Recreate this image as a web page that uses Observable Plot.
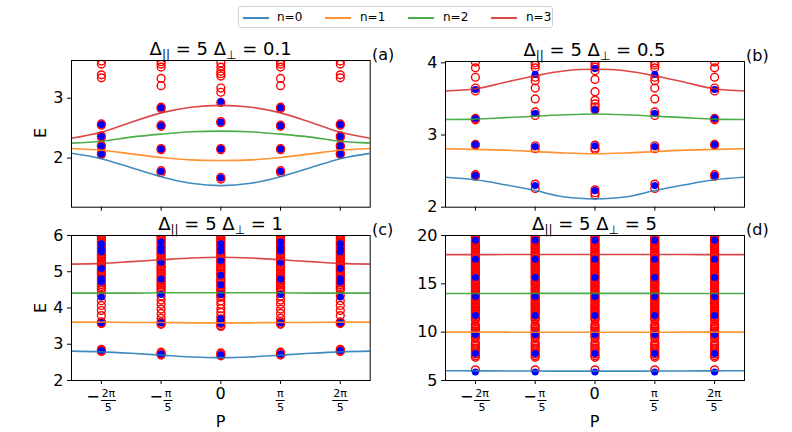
<!DOCTYPE html>
<html><head><meta charset="utf-8">
<script src="https://cdn.jsdelivr.net/npm/d3@7"></script>
<script src="https://cdn.jsdelivr.net/npm/@observablehq/plot@0.6"></script>
<style>
body{margin:0;background:#fff;font-family:"DejaVu Sans",sans-serif;color:#000;}
#fig{position:relative;width:792px;height:432px;overflow:hidden;background:#fff;}
.abs{position:absolute;white-space:nowrap;}
.title{font-size:18px;line-height:18px;transform:translateX(-50%);}
.title sub{font-size:12px;vertical-align:-4px;line-height:0;}
.tag{font-size:16px;line-height:16px;}
.axlab{font-size:16px;line-height:16px;}
.xlab{font-size:16px;line-height:12px;}
.xt{transform:translateX(-50%);display:flex;align-items:flex-start;font-size:16px;line-height:16px;}
.frac{display:inline-flex;flex-direction:column;align-items:center;font-size:11px;line-height:11px;margin-top:2px;}
.frac .num{border-bottom:1px solid #000;padding:0 1px 1px 1px;}
.frac .den{padding-top:1px;}
.minus{font-size:16px;line-height:16px;margin-top:3px;margin-right:1px;}
#legend{left:238px;top:6px;width:315px;height:22px;border:1px solid #d3d3d3;border-radius:3px;box-sizing:border-box;}
.lg{position:absolute;top:10px;width:26px;height:0;border-top:2px solid;opacity:0.85;}
.lt{position:absolute;top:3px;font-size:12px;line-height:14px;}
</style></head><body><div id="fig"></div>
<script>
const PI = Math.PI;
// P positions of the scatter columns and the tick labels
const P5 = [-2*PI/5, -PI/5, 0, PI/5, 2*PI/5];
const tickSign = ["−", "−", "", "", ""];
const tickNum = ["2π", "π", "0", "π", "2π"];
const tickDen = ["5", "5", "", "5", "5"];
// P samples of the curves
const Pline = [-PI/2, -2*PI/5, -3*PI/10, -PI/5, -PI/10, 0, PI/10, PI/5, 3*PI/10, 2*PI/5, PI/2];
const seriesNames = ["n=0", "n=1", "n=2", "n=3"];
const seriesColors = ["#1f77b4", "#ff7f0e", "#2ca02c", "#d62728"];

// Panel (a)  Δ⊥ = 0.1
const aN0 = [2.08, 1.99, 1.84, 1.69, 1.58, 1.54, 1.58, 1.69, 1.84, 1.99, 2.08];
const aN1 = [2.16, 2.13, 2.07, 2.01, 1.97, 1.96, 1.97, 2.01, 2.07, 2.13, 2.16];
const aN2 = [2.25, 2.28, 2.35, 2.40, 2.44, 2.45, 2.44, 2.40, 2.35, 2.28, 2.25];
const aN3 = [2.33, 2.43, 2.60, 2.755, 2.85, 2.88, 2.85, 2.755, 2.60, 2.43, 2.33];
const aBlueOuter = [2.56, 2.36, 2.20, 2.07];
const aBlueInner = [2.84, 2.54, 2.15, 1.78];
const aBlueMid = [2.94, 2.60, 2.15, 1.67];
const aRedOuter = [3.62, 3.57, 3.39, 3.34, 2.57, 2.55, 2.37, 2.35, 2.21, 2.19, 2.08, 2.06];
const aRedInner = [3.61, 3.57, 3.52, 3.33, 3.21, 2.85, 2.83, 2.55, 2.53, 2.16, 2.14, 1.79, 1.76];
const aRedMid = [3.59, 3.52, 3.45, 3.41, 3.37, 3.17, 3.10, 2.93, 2.61, 2.59, 2.16, 2.14, 1.68, 1.65];

// Panel (b)  Δ⊥ = 0.5
const bN0 = [2.415, 2.38, 2.31, 2.23, 2.14, 2.115, 2.14, 2.23, 2.31, 2.38, 2.415];
const bN1 = [2.81, 2.80, 2.79, 2.77, 2.75, 2.74, 2.75, 2.77, 2.79, 2.80, 2.81];
const bN2 = [3.215, 3.22, 3.24, 3.26, 3.28, 3.29, 3.28, 3.26, 3.24, 3.22, 3.215];
const bN3 = [3.61, 3.64, 3.73, 3.82, 3.89, 3.91, 3.89, 3.82, 3.73, 3.64, 3.61];
const bBlueOuter = [3.63, 3.23, 2.87, 2.44];
const bBlueInner = [3.84, 3.30, 2.84, 2.30];
const bBlueMid = [3.92, 3.35, 2.85, 2.23];
const bRedOuter = [4.01, 3.93, 3.80, 3.65, 3.61, 3.23, 3.21, 2.87, 2.86, 2.45, 2.43];
const bRedInner = [4.00, 3.97, 3.93, 3.80, 3.75, 3.65, 3.50, 3.32, 3.27, 2.85, 2.81, 2.32, 2.26];
const bRedMid = [4.01, 3.97, 3.94, 3.89, 3.77, 3.60, 3.48, 3.43, 3.39, 3.35, 2.86, 2.82, 2.80, 2.24, 2.20, 2.17];

// Panel (c)  Δ⊥ = 1
const cN0 = [2.81, 2.79, 2.75, 2.70, 2.65, 2.63, 2.65, 2.70, 2.75, 2.79, 2.81];
const cN1 = [3.61, 3.61, 3.60, 3.60, 3.59, 3.59, 3.59, 3.60, 3.60, 3.61, 3.61];
const cN2 = [4.41, 4.41, 4.41, 4.42, 4.42, 4.42, 4.42, 4.42, 4.41, 4.41, 4.41];
const cN3 = [5.21, 5.23, 5.28, 5.33, 5.38, 5.40, 5.38, 5.33, 5.28, 5.23, 5.21];
const cBlueOuter = [5.77, 5.64, 5.55, 5.09, 4.81, 4.72, 4.30, 3.59, 2.83];
const cBlueInner = [5.82, 5.66, 5.57, 5.26, 4.80, 4.37, 3.59, 2.73];
const cBlueMid = [5.77, 5.65, 5.57, 5.31, 4.90, 4.64, 4.37, 3.70, 3.57, 2.71];
const cRedOuter = [6.02, 5.97, 5.93, 5.88, 5.83, 5.78, 5.74, 5.69, 5.64, 5.59, 5.55, 5.50, 5.45, 5.40, 5.36, 5.31, 5.26, 5.21, 5.17, 5.12, 5.07, 5.02, 4.98, 4.93, 4.88, 4.83, 4.78, 4.74, 4.69, 4.64, 4.59, 4.54, 4.49, 4.34, 4.20, 4.07, 3.93, 3.79, 3.62, 3.59, 3.57, 2.86, 2.83, 2.80];
const cRedInner = [6.02, 5.97, 5.92, 5.88, 5.83, 5.78, 5.73, 5.69, 5.64, 5.59, 5.54, 5.50, 5.45, 5.40, 5.35, 5.31, 5.26, 5.21, 5.16, 5.12, 5.07, 5.02, 4.97, 4.93, 4.88, 4.83, 4.78, 4.74, 4.69, 4.64, 4.59, 4.55, 4.50, 4.45, 4.33, 4.22, 4.10, 3.97, 3.85, 3.72, 3.62, 3.58, 3.55, 2.78, 2.74, 2.70];
const cRedMid = [6.02, 5.97, 5.92, 5.88, 5.83, 5.78, 5.73, 5.69, 5.64, 5.59, 5.54, 5.50, 5.45, 5.40, 5.35, 5.31, 5.26, 5.21, 5.16, 5.12, 5.07, 5.02, 4.97, 4.93, 4.88, 4.83, 4.78, 4.74, 4.69, 4.64, 4.59, 4.54, 4.49, 4.44, 4.39, 4.34, 4.30, 4.20, 4.10, 3.98, 3.88, 3.78, 3.70, 3.62, 3.57, 3.52, 3.49, 2.76, 2.72, 2.68];

// Panel (d)  Δ⊥ = 5
const dN0 = [6.01, 6.00, 5.99, 5.98, 5.97, 5.97, 5.97, 5.98, 5.99, 6.00, 6.01];
const dN1 = [10.00, 10.00, 10.00, 9.99, 9.99, 9.99, 9.99, 9.99, 10.00, 10.00, 10.00];
const dN2 = [14.00, 14.00, 14.00, 14.01, 14.01, 14.01, 14.01, 14.01, 14.00, 14.00, 14.00];
const dN3 = [18.02, 18.02, 18.03, 18.03, 18.04, 18.04, 18.04, 18.03, 18.03, 18.02, 18.02];
const dBlue = [19.50, 17.55, 15.65, 13.70, 11.72, 9.75, 7.80, 5.87];
const dRed = [20.10, 19.95, 19.80, 19.65, 19.50, 19.35, 19.20, 19.05, 18.90, 18.75, 18.60, 18.45, 18.30, 18.15, 18.00, 17.85, 17.70, 17.55, 17.40, 17.25, 17.10, 16.95, 16.80, 16.65, 16.50, 16.35, 16.20, 16.05, 15.90, 15.75, 15.60, 15.45, 15.30, 15.15, 15.00, 14.85, 14.70, 14.55, 14.40, 14.25, 14.10, 13.95, 13.80, 13.65, 13.50, 13.35, 13.20, 13.05, 12.90, 12.75, 12.60, 12.45, 12.30, 12.15, 12.00, 11.85, 11.70, 11.55, 11.40, 11.25, 10.80, 10.62, 10.45, 10.28, 10.10, 9.93, 9.75, 9.58, 9.40, 8.95, 8.75, 8.55, 8.35, 8.15, 7.95, 7.75, 7.55, 7.40, 6.10];

const fig = document.getElementById("fig");
function addDiv(cls, html, left, top, extra) {
  const d = document.createElement("div");
  d.className = "abs " + cls;
  d.innerHTML = html;
  d.style.left = left + "px";
  d.style.top = top + "px";
  if (extra) Object.assign(d.style, extra);
  fig.appendChild(d);
  return d;
}
function columns(cols) {
  return cols.flatMap((vals, i) => vals.map(E => ({P: P5[i], E})));
}

function makePanel(cfg) {
  const mL = 44, mR = 6, mT = 6, mB = 8;
  const lineMarks = cfg.lines.map((arr, k) =>
    Plot.line(arr.map((E, i) => ({P: Pline[i], E, n: seriesNames[k]})),
      {x: "P", y: "E", stroke: seriesColors[k], strokeWidth: 1.6, strokeOpacity: 0.85, curve: "catmull-rom", clip: true}));
  const chart = Plot.plot({
    width: cfg.w + mL + mR, height: cfg.h + mT + mB,
    marginLeft: mL, marginRight: mR, marginTop: mT, marginBottom: mB,
    x: {domain: [-PI/2, PI/2]},
    y: {domain: cfg.yDomain},
    style: {fontFamily: "DejaVu Sans", fontSize: "16px", color: "black", background: "transparent", overflow: "visible"},
    marks: [
      Plot.dot(cfg.red, {x: "P", y: "E", r: 3.9, stroke: "#ff0000", fill: "none", strokeWidth: 1.4, clip: true}),
      Plot.dot(cfg.blue, {x: "P", y: "E", r: 3.5, fill: "#0000ff", stroke: "none", clip: true}),
      ...lineMarks,
      Plot.frame({stroke: "black", strokeWidth: 1}),
      Plot.axisY({ticks: cfg.yTicks, tickSize: 4, tickPadding: 4, label: null, tickFormat: d => String(d)}),
      Plot.axisX({ticks: P5, tickSize: 4, tickFormat: () => "", label: null})
    ]
  });
  chart.style.position = "absolute";
  chart.style.left = (cfg.left - mL) + "px";
  chart.style.top = (cfg.top - mT) + "px";
  fig.appendChild(chart);

  const cx = cfg.left + cfg.w / 2;
  addDiv("title", cfg.title, cx, cfg.top - 20);
  addDiv("tag", cfg.tag, cfg.left + cfg.w + 2, cfg.top - 13);
  if (cfg.yLabel) {
    addDiv("axlab", "E", 41, cfg.top + cfg.h / 2, {transform: "translate(-50%,-50%) rotate(-90deg)"});
  }
  if (cfg.xLabels) {
    const xs = chart.scale("x");
    P5.forEach((p, i) => {
      const px = cfg.left - mL + xs.apply(p);
      let html;
      if (tickDen[i] === "") html = `<span>${tickNum[i]}</span>`;
      else html = (tickSign[i] ? `<span class="minus">${tickSign[i]}</span>` : "") +
        `<span class="frac"><span class="num">${tickNum[i]}</span><span class="den">${tickDen[i]}</span></span>`;
      addDiv("xt", html, px, cfg.top + cfg.h + 6);
    });
    addDiv("xlab", "P", cx, 415.5, {transform: "translateX(-50%)"});
  }
}

const mkTitle = v => `Δ<sub>||</sub> = 5 Δ<sub>⊥</sub> = ${v}`;

makePanel({left: 71.3, top: 60, w: 298.7, h: 146.7, yDomain: [1.18, 3.63], yTicks: [2, 3],
  lines: [aN0, aN1, aN2, aN3],
  red: columns([aRedOuter, aRedInner, aRedMid, aRedInner, aRedOuter]),
  blue: columns([aBlueOuter, aBlueInner, aBlueMid, aBlueInner, aBlueOuter]),
  title: mkTitle("0.1"), tag: "(a)", yLabel: true, xLabels: false});
makePanel({left: 445, top: 61, w: 299, h: 145.7, yDomain: [2, 4.018], yTicks: [2, 3, 4],
  lines: [bN0, bN1, bN2, bN3],
  red: columns([bRedOuter, bRedInner, bRedMid, bRedInner, bRedOuter]),
  blue: columns([bBlueOuter, bBlueInner, bBlueMid, bBlueInner, bBlueOuter]),
  title: mkTitle("0.5"), tag: "(b)", yLabel: false, xLabels: false});
makePanel({left: 71.3, top: 235, w: 298.7, h: 145, yDomain: [2, 6], yTicks: [2, 3, 4, 5, 6],
  lines: [cN0, cN1, cN2, cN3],
  red: columns([cRedOuter, cRedInner, cRedMid, cRedInner, cRedOuter]),
  blue: columns([cBlueOuter, cBlueInner, cBlueMid, cBlueInner, cBlueOuter]),
  title: mkTitle("1"), tag: "(c)", yLabel: true, xLabels: true});
makePanel({left: 445, top: 235, w: 299, h: 145, yDomain: [5, 20], yTicks: [5, 10, 15, 20],
  lines: [dN0, dN1, dN2, dN3],
  red: columns([dRed, dRed, dRed, dRed, dRed]),
  blue: columns([dBlue, dBlue, dBlue, dBlue, dBlue]),
  title: mkTitle("5"), tag: "(d)", yLabel: false, xLabels: true});

// Legend
const lg = addDiv("", "", 238, 6);
lg.id = "legend";
const segX = [3.7, 86, 169, 252], txtX = [38, 121, 204, 287];
seriesNames.forEach((name, k) => {
  const s = document.createElement("div");
  s.className = "lg"; s.style.left = segX[k] + "px"; s.style.borderTopColor = seriesColors[k];
  lg.appendChild(s);
  const t = document.createElement("div");
  t.className = "lt"; t.style.left = txtX[k] + "px"; t.textContent = name;
  lg.appendChild(t);
});
</script></body></html>
